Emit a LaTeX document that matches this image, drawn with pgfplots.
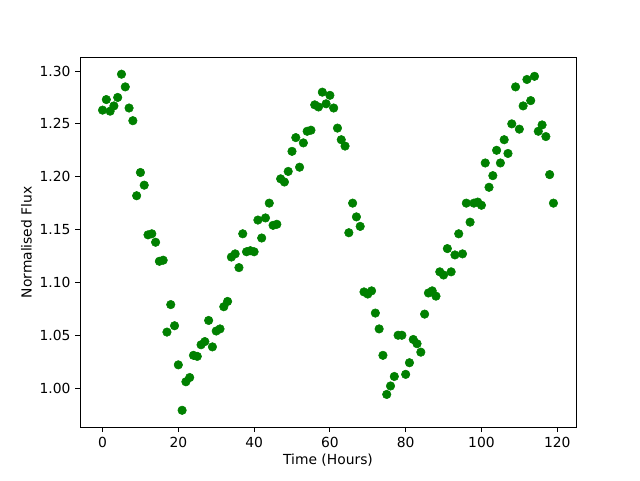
\documentclass[border=0pt]{standalone}
\usepackage{pgfplots}
\pgfplotsset{compat=1.18}
\usepackage{fontspec}
\setmainfont{DejaVu Sans}
\definecolor{mplgreen}{HTML}{008000}
\begin{document}
\begin{tikzpicture}
\path[use as bounding box] (0,0) rectangle (480pt,360pt);
\begin{axis}[
  at={(60pt,39.6pt)}, anchor=south west,
  scale only axis, width=372pt, height=277.2pt,
  xmin=-5.95, xmax=124.95, ymin=0.963, ymax=1.3127,
  xtick={0,20,40,60,80,100,120},
  ytick={1.00,1.05,1.10,1.15,1.20,1.25,1.30},
  yticklabel style={/pgf/number format/.cd, fixed, fixed zerofill, precision=2},
  /pgf/number format/assume math mode=true,
  tick align=outside, major tick length=3.65pt,
  xtick pos=bottom, ytick pos=left,
  axis line style={line width=0.6pt}, every tick/.style={line width=0.6pt, black},
  ticklabel style={font=\fontsize{10.4}{12}\selectfont},
  label style={font=\fontsize{10.4}{12}\selectfont},
  xlabel={Time (Hours)}, ylabel={Normalised Flux},
  xlabel style={yshift=2pt}, ylabel style={yshift=-1pt},
]
\addplot[only marks, mark=*, mark size=3.2pt, mplgreen, mark options={draw=mplgreen, fill=mplgreen}] coordinates {
(0,1.263)(1,1.273)(2,1.262)(3,1.267)(4,1.275)(5,1.297)(6,1.285)(7,1.265)(8,1.253)(9,1.182)
(10,1.204)(11,1.192)(12,1.145)(13,1.146)(14,1.138)(15,1.120)(16,1.121)(17,1.053)(18,1.079)(19,1.059)
(20,1.022)(21,0.979)(22,1.006)(23,1.010)(24,1.031)(25,1.030)(26,1.041)(27,1.044)(28,1.064)(29,1.039)
(30,1.054)(31,1.056)(32,1.077)(33,1.082)(34,1.124)(35,1.127)(36,1.114)(37,1.146)(38,1.129)(39,1.130)
(40,1.129)(41,1.159)(42,1.142)(43,1.161)(44,1.175)(45,1.154)(46,1.155)(47,1.198)(48,1.195)(49,1.205)
(50,1.224)(51,1.237)(52,1.209)(53,1.232)(54,1.243)(55,1.244)(56,1.268)(57,1.266)(58,1.280)(59,1.269)
(60,1.277)(61,1.265)(62,1.246)(63,1.235)(64,1.229)(65,1.147)(66,1.175)(67,1.162)(68,1.153)(69,1.091)
(70,1.089)(71,1.092)(72,1.071)(73,1.056)(74,1.031)(75,0.994)(76,1.002)(77,1.011)(78,1.050)(79,1.050)
(80,1.013)(81,1.024)(82,1.046)(83,1.042)(84,1.034)(85,1.070)(86,1.090)(87,1.092)(88,1.087)(89,1.110)
(90,1.107)(91,1.132)(92,1.110)(93,1.126)(94,1.146)(95,1.127)(96,1.175)(97,1.157)(98,1.175)(99,1.176)
(100,1.173)(101,1.213)(102,1.190)(103,1.201)(104,1.225)(105,1.213)(106,1.235)(107,1.222)(108,1.250)(109,1.285)
(110,1.245)(111,1.267)(112,1.292)(113,1.272)(114,1.295)(115,1.243)(116,1.249)(117,1.238)(118,1.202)(119,1.175)
};
\end{axis}
\end{tikzpicture}
\end{document}
